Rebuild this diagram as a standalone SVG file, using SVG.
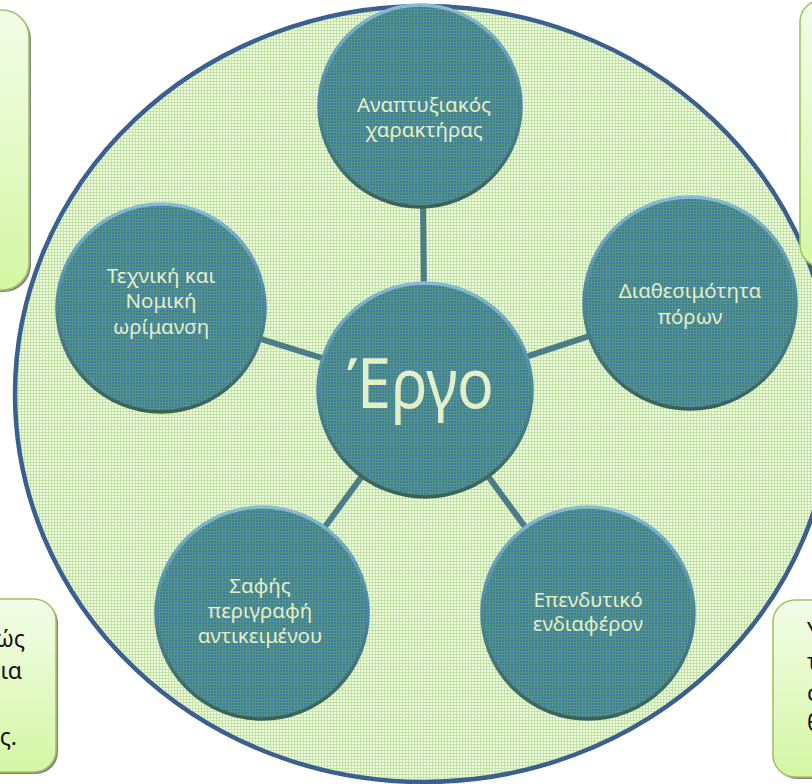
<svg xmlns="http://www.w3.org/2000/svg" width="812" height="784" viewBox="0 0 812 784">
  <defs>
    <pattern id="bgGrid" x="0" y="0" width="3" height="3" patternUnits="userSpaceOnUse">
      <rect width="3" height="3" fill="#f0f9e6"/>
      <rect x="0" y="0" width="3" height="1" fill="#c4e4a3"/>
      <rect x="0" y="0" width="1" height="3" fill="#c4e4a3"/>
    </pattern>
    <pattern id="nodeGrid" x="0" y="0" width="3" height="3" patternUnits="userSpaceOnUse">
      <rect width="3" height="3" fill="#3d7ca4"/>
      <rect x="0" y="0" width="3" height="1" fill="#56957f"/>
      <rect x="0" y="0" width="1" height="3" fill="#56957f"/>
    </pattern>
    <linearGradient id="rim" x1="0" y1="0" x2="0" y2="1">
      <stop offset="0" stop-color="#86bdd4"/>
      <stop offset="0.45" stop-color="#4d8aa2"/>
      <stop offset="1" stop-color="#3a6153"/>
    </linearGradient>
    <linearGradient id="boxFill" x1="0" y1="0" x2="0" y2="1">
      <stop offset="0" stop-color="#f3fde9"/>
      <stop offset="1" stop-color="#d5f6a4"/>
    </linearGradient>
    <style>
      .node { fill: url(#nodeGrid); stroke: url(#rim); stroke-width: 3.5; }
      .lbl { font-family: "Noto Sans", "Open Sans", sans-serif; font-size: 20.5px; fill: #e3eecb; text-anchor: middle; }
      .big { font-family: "Noto Sans", "Open Sans", sans-serif; font-size: 70px; fill: #e3eecb; }
      .box { fill: url(#boxFill); stroke: #a2c266; stroke-width: 1.6; }
      .shadow { fill: #5a5a5a; opacity: 0.75; }
      .btxt { font-family: "Noto Sans", "Open Sans", sans-serif; font-size: 23px; fill: #111; }
      .conn { stroke: #4c7c88; stroke-width: 6; stroke-linecap: butt; fill: none; }
    </style>
  </defs>

  <rect width="812" height="784" fill="#ffffff"/>

  <g id="frame">
    <ellipse cx="424" cy="394" rx="409" ry="388" fill="url(#bgGrid)" stroke="#3b5f8e" stroke-width="4.5"/>
  </g>

  <g id="box-top-left">
    <rect class="shadow" x="-40" y="12" width="71" height="280" rx="27"/>
    <rect class="box" x="-40" y="10" width="69" height="280" rx="27"/>
  </g>
  <g id="box-top-right">
    <rect class="shadow" x="802" y="2" width="60" height="268" rx="22"/>
    <rect class="box" x="800" y="0" width="60" height="267" rx="22"/>
  </g>
  <g id="box-bottom-left">
    <rect class="shadow" x="-40" y="601" width="98" height="173" rx="22"/>
    <rect class="box" x="-40" y="599" width="96" height="173" rx="22"/>
    <text class="btxt" text-anchor="end" x="25" y="647">ώς</text>
    <text class="btxt" text-anchor="end" x="22" y="679">ια</text>
    <text class="btxt" text-anchor="end" x="17" y="745">ς.</text>
  </g>
  <g id="box-bottom-right">
    <rect class="shadow" x="775" y="602" width="80" height="177" rx="22"/>
    <rect class="box" x="773" y="600" width="80" height="177" rx="22"/>
    <text class="btxt" x="807" y="639">Υ</text>
    <text class="btxt" x="807" y="670">τ</text>
    <text class="btxt" x="807" y="701">σ</text>
    <text class="btxt" x="807" y="731">θ</text>
  </g>

  <g id="connectors">
    <line class="conn" x1="425" y1="390" x2="422" y2="106"/>
    <line class="conn" x1="425" y1="390" x2="161" y2="308"/>
    <line class="conn" x1="425" y1="390" x2="690" y2="303"/>
    <line class="conn" x1="425" y1="390" x2="262" y2="613"/>
    <line class="conn" x1="425" y1="390" x2="588" y2="613"/>
  </g>

  <g id="node-top">
    <circle class="node" cx="420" cy="106" r="101"/>
    <text class="lbl" x="424" y="112">Αναπτυξιακός</text>
    <text class="lbl" x="424" y="137">χαρακτήρας</text>
  </g>
  <g id="node-left">
    <circle class="node" cx="161" cy="308" r="104"/>
    <text class="lbl" x="161" y="283">Τεχνική και</text>
    <text class="lbl" x="161" y="308">Νομική</text>
    <text class="lbl" x="161" y="334">ωρίμανση</text>
  </g>
  <g id="node-right">
    <circle class="node" cx="690" cy="303" r="106"/>
    <text class="lbl" x="690" y="298">Διαθεσιμότητα</text>
    <text class="lbl" x="690" y="324">πόρων</text>
  </g>
  <g id="node-bottom-left">
    <circle class="node" cx="262" cy="613" r="106"/>
    <text class="lbl" x="260" y="593">Σαφής</text>
    <text class="lbl" x="260" y="618">περιγραφή</text>
    <text class="lbl" x="260" y="643">αντικειμένου</text>
  </g>
  <g id="node-bottom-right">
    <circle class="node" cx="588" cy="613" r="106"/>
    <text class="lbl" x="588" y="607">Επενδυτικό</text>
    <text class="lbl" x="588" y="631">ενδιαφέρον</text>
  </g>
  <g id="node-center">
    <circle class="node" cx="425" cy="390" r="107"/>
    <text class="big" x="347" y="408" textLength="147" lengthAdjust="spacingAndGlyphs">Έργο</text>
  </g>
</svg>
